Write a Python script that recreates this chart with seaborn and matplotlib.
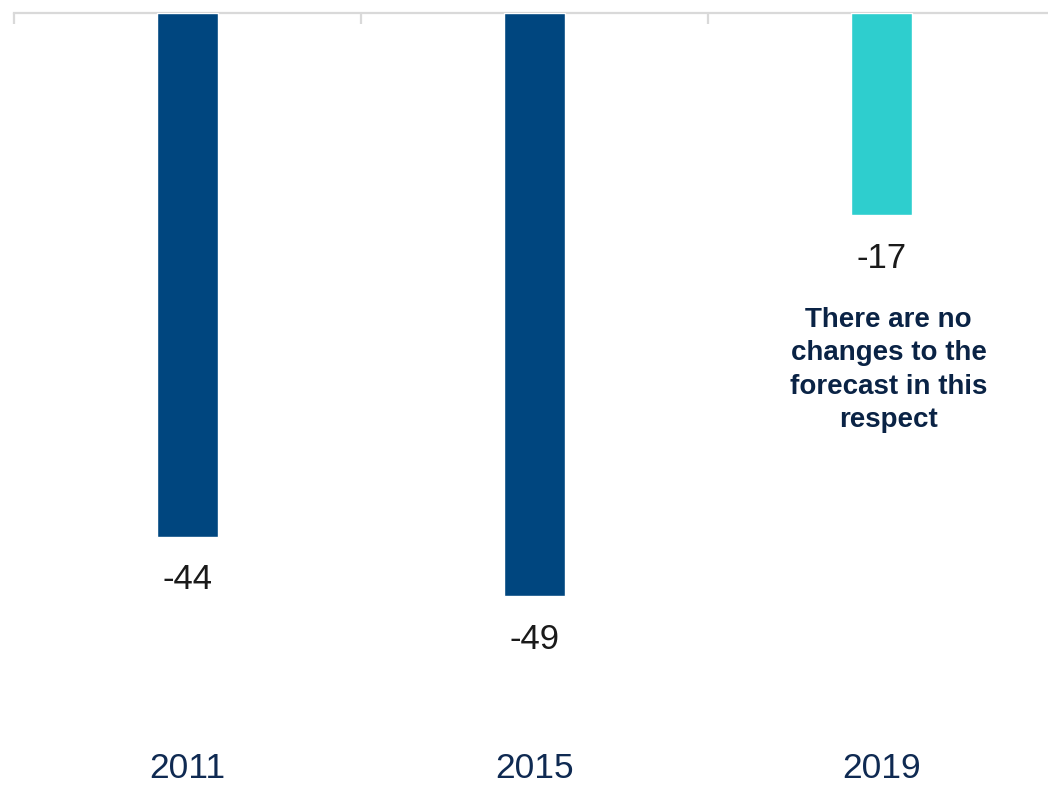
import matplotlib
matplotlib.use("Agg")
import matplotlib.pyplot as plt
import seaborn as sns
import pandas as pd

# Change by year
years = ["2011", "2015", "2019"]
values = [-44, -49, -17]
bar_colors = ["#00467F", "#00467F", "#2ECECE"]
note = "There are no\nchanges to the\nforecast in this\nrespect"

sns.set_style("white")
plt.rcParams["font.family"] = ["Liberation Sans", "DejaVu Sans"]

df = pd.DataFrame({"year": years, "value": values})

fig = plt.figure(figsize=(10.48, 7.89), dpi=100)
ax = fig.add_axes([14 / 1048, 0.0484, 1041 / 1048, 0.9835 - 0.0484])

sns.barplot(data=df, x="year", y="value", hue="year", palette=bar_colors,
            width=0.173, legend=False, ax=ax, saturation=1, zorder=3)

ax.set_xlim(-0.5, 2.5)
ax.set_ylim(-62, 0)
ax.set_xlabel("")
ax.set_ylabel("")
ax.set_yticks([])

for side in ["left", "right", "bottom"]:
    ax.spines[side].set_visible(False)
ax.spines["top"].set_color("#D9D9D9")
ax.spines["top"].set_linewidth(1.6)
ax.spines["top"].set_zorder(2)

# Category dividers as small ticks hanging from the zero line
ax.set_xticks([-0.5, 0.5, 1.5, 2.5], minor=True)
ax.tick_params(axis="x", which="minor", bottom=False, top=True,
               direction="in", length=8, width=1.6, color="#D9D9D9")
ax.tick_params(axis="x", which="major", bottom=True, length=0, pad=1,
               labelsize=25.5, labelcolor="#0F2A52")

# Value labels under each bar
for i, v in enumerate(values):
    ax.annotate(f"{v}", xy=(i, v), xytext=(0, -31), textcoords="offset points",
                ha="center", va="center", fontsize=25, color="#1A1A1A")

ax.text(2.02, -30.0, note, ha="center", va="center", fontsize=20,
        fontweight="bold", color="#0A2345", linespacing=1.36)

fig.savefig("out.png", dpi=100)
